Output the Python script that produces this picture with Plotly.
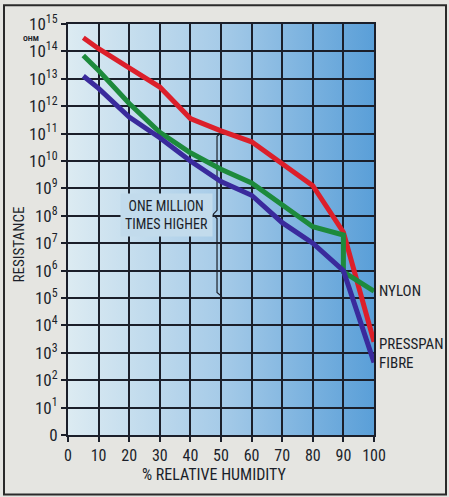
import plotly.graph_objects as go

# ---- data (log10 of resistance in ohm) ----
humidity_red = [5, 10, 20, 30, 40, 50, 60, 70, 80, 90, 100]
log_red = [14.5, 14.1, 13.4, 12.7, 11.55, 11.1, 10.7, 9.9, 9.1, 7.4, 3.4]

humidity_green = [5, 10, 20, 30, 40, 50, 60, 70, 80, 90, 90, 100]
log_green = [13.85, 13.3, 12.1, 11.05, 10.3, 9.7, 9.2, 8.4, 7.6, 7.3, 5.95, 5.25]

humidity_blue = [5, 10, 20, 30, 40, 50, 60, 70, 80, 90, 100]
log_blue = [13.1, 12.65, 11.6, 10.85, 10.0, 9.25, 8.75, 7.75, 7.0, 6.0, 2.65]

x_ticks = [0, 10, 20, 30, 40, 50, 60, 70, 80, 90, 100]
y_exponents = list(range(0, 16))
y_ticktext = ["0"] + [f"10<sup>{e}</sup>" for e in y_exponents[1:]]

# bracket ("one million times higher") from 10^11 down to 10^5
brace_x = [50.3, 48.7, 48.7, 47.4, 48.7, 48.7, 50.3]
brace_log = [11.05, 10.9, 8.2, 8.05, 7.9, 5.2, 5.05]

FONT = "Liberation Sans Narrow, Roboto Condensed, Arial Narrow, Liberation Sans, sans-serif"
INK = "#1b1f2a"

fig = go.Figure()

fig.add_trace(go.Scatter(x=brace_x, y=[10 ** v for v in brace_log], mode="lines",
                         line=dict(color=INK, width=1.2), hoverinfo="skip"))

fig.add_trace(go.Scatter(x=humidity_red, y=[10 ** v for v in log_red], mode="lines",
                         line=dict(color="#dc1f2a", width=5), name="Presspan"))
fig.add_trace(go.Scatter(x=humidity_green, y=[10 ** v for v in log_green], mode="lines",
                         line=dict(color="#1d8a3c", width=5), name="Nylon"))
fig.add_trace(go.Scatter(x=humidity_blue, y=[10 ** v for v in log_blue], mode="lines",
                         line=dict(color="#3a2a9c", width=5), name="Fibre"))

grad_svg = (
    "data:image/svg+xml;utf8,"
    "<svg xmlns='http://www.w3.org/2000/svg' width='100' height='100' preserveAspectRatio='none'>"
    "<defs><linearGradient id='g' x1='0' y1='0' x2='1' y2='0'>"
    "<stop offset='0' stop-color='%23dcebf2'/>"
    "<stop offset='0.5' stop-color='%23a6cbe8'/>"
    "<stop offset='1' stop-color='%235a9fd8'/>"
    "</linearGradient></defs>"
    "<rect width='100' height='100' fill='url(%23g)'/></svg>"
)

fig.update_layout(
    width=449, height=497,
    margin=dict(l=68, r=75, t=21, b=62),
    paper_bgcolor="#e5e5e1",
    plot_bgcolor="rgba(0,0,0,0)",
    showlegend=False,
    font=dict(family=FONT, color=INK),
    images=[dict(source=grad_svg, xref="paper", yref="paper", x=0, y=1,
                 sizex=1, sizey=1, sizing="stretch", layer="below", xanchor="left", yanchor="top")],
    xaxis=dict(range=[0, 100], tickvals=x_ticks, showgrid=True, gridcolor=INK, gridwidth=2,
               showline=True, linecolor=INK, linewidth=2, mirror=True,
               ticks="outside", ticklen=5, tickwidth=2, tickcolor=INK,
               tickfont=dict(size=16, family=FONT, color=INK), zeroline=False, fixedrange=True),
    yaxis=dict(type="log", range=[0, 15], tickvals=[10 ** e for e in y_exponents], ticktext=y_ticktext,
               showgrid=True, gridcolor=INK, gridwidth=2,
               showline=True, linecolor=INK, linewidth=2, mirror=True,
               ticks="outside", ticklen=5, tickwidth=2, tickcolor=INK,
               tickfont=dict(size=17, family=FONT, color=INK), zeroline=False, fixedrange=True),
    shapes=[dict(type="rect", xref="paper", yref="paper",
                 x0=(4 - 68) / 306, x1=(446 - 68) / 306, y0=(435 - 495) / 414, y1=(435 - 2) / 414,
                 line=dict(color="#2a2a2a", width=2), fillcolor="rgba(0,0,0,0)", layer="below")],
)

fig.add_annotation(x=32.1, y=8.04, xref="x", yref="y", text="ONE MILLION<br>TIMES HIGHER",
                   showarrow=False, font=dict(size=14, family=FONT, color=INK),
                   bgcolor="#c2dbec", borderpad=4, align="center", xanchor="center", yanchor="middle")
fig.add_annotation(x=(31 - 68) / 306, y=(435 - 36) / 414, xref="paper", yref="paper", text="<b>OHM</b>",
                   showarrow=False, font=dict(size=8, family=FONT, color=INK),
                   xanchor="center", yanchor="middle")
fig.add_annotation(x=(19 - 68) / 306, y=(435 - 243) / 414, xref="paper", yref="paper", text="RESISTANCE",
                   showarrow=False, textangle=-90, font=dict(size=15, family=FONT, color=INK),
                   xanchor="center", yanchor="middle")
fig.add_annotation(x=(214 - 68) / 306, y=(435 - 475) / 414, xref="paper", yref="paper",
                   text="% RELATIVE HUMIDITY", showarrow=False, font=dict(size=16, family=FONT, color=INK),
                   xanchor="center", yanchor="middle")
for label, ypix in [("NYLON", 290), ("PRESSPAN", 343), ("FIBRE", 362)]:
    fig.add_annotation(x=(377 - 68) / 306, y=(435 - ypix) / 414, xref="paper", yref="paper",
                       text=label, showarrow=False, xanchor="left", yanchor="middle",
                       font=dict(size=15, family=FONT, color=INK))

fig.write_html("out.html", config={"displayModeBar": False},
               post_script="document.body.style.margin='0';")
